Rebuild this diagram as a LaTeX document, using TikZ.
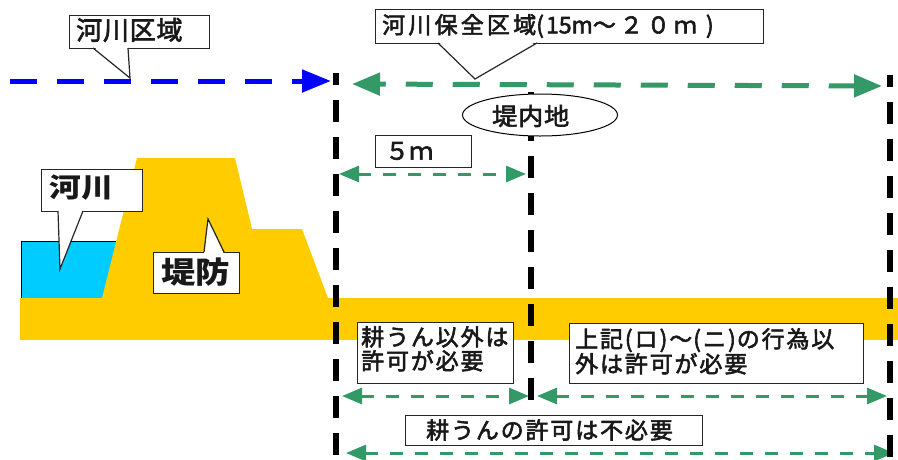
\documentclass[tikz,border=0pt]{standalone}
\usepackage{fontspec}
\usetikzlibrary{arrows.meta,shapes.geometric}
\newfontfamily\jp{Noto Sans CJK JP}
\newcommand\jpset[4]{\jp\addfontfeatures{FakeStretch=#2,LetterSpace=#3,FakeBold=2.5}\fontsize{#1}{#4}\selectfont}
\newcommand\jpbset[4]{\jp\bfseries\addfontfeatures{FakeStretch=#2,LetterSpace=#3}\fontsize{#1}{#4}\selectfont}
\definecolor{gr}{HTML}{339966}
\definecolor{bl}{HTML}{0000FF}
\definecolor{lv}{HTML}{FFCC00}
\definecolor{wt}{HTML}{00CCFF}
\begin{document}
\begin{tikzpicture}[x=1pt,y=-1pt,
  box/.style={draw=black!85, line width=1.2pt, fill=white, inner sep=0pt, anchor=north west},
  ptr/.style={draw=black!85, line width=1.2pt, line join=miter},
  txt/.style={inner sep=0pt, anchor=center, text=black!90},
  vline/.style={line width=6pt, black, dash pattern=on 22pt off 15pt, dash phase=10pt},
  bigarrow/.style={line width=5pt, dash pattern=on 27pt off 20pt, {Triangle[length=28pt,width=22pt]}-{Triangle[length=28pt,width=22pt]}},
  thinarrow/.style={line width=3pt, gr, dash pattern=on 13pt off 12pt, {Triangle[length=20pt,width=16pt]}-{Triangle[length=20pt,width=16pt]}}
]
\useasboundingbox (0,0) rectangle (898,459);
\fill[white] (0,0) rectangle (898,459);

% ---- river, ground and levee
\filldraw[fill=wt, draw=black, line width=1pt] (21,241) rectangle (117,298);
\fill[lv] (20,298) rectangle (898,340);
\fill[lv] (102,298) -- (137,158) -- (235,158) -- (252,229) -- (302,229) -- (328,298) -- cycle;

% ---- coordinates
\coordinate (blS) at (10,81);
\coordinate (blE) at (331,81);
\coordinate (gtS) at (352,84);
\coordinate (gtE) at (882,86);
\coordinate (g5S) at (339,174);
\coordinate (g5E) at (526,174);
\coordinate (gaS) at (342,396);
\coordinate (gaE) at (529,396);
\coordinate (gbS) at (537,396);
\coordinate (gbE) at (887,396);
\coordinate (gcS) at (346,453);
\coordinate (gcE) at (894,453);
\coordinate (v1T) at (336,73);
\coordinate (v1B) at (336,459);
\coordinate (v2T) at (531,92);
\coordinate (v2B) at (531,412);
\coordinate (v3T) at (890,75);
\coordinate (v3B) at (890,459);

% ---- arrows
\draw[bigarrow, bl, dash phase=0pt, -{Triangle[length=29pt,width=22pt]}] (blS) -- (blE);
\draw[bigarrow, gr, dash phase=20pt] (gtS) -- (gtE);
\draw[thinarrow] (g5S) -- (g5E);
\draw[thinarrow] (gaS) -- (gaE);
\draw[thinarrow] (gbS) -- (gbE);
\draw[thinarrow] (gcS) -- (gcE);

% ---- vertical boundary lines
\draw[vline] (v1T) -- (v1B);
\draw[vline] (v2T) -- (v2B);
\draw[vline] (v3T) -- (v3B);

% ---- callout: river area
\node[box, minimum width=140pt, minimum height=33pt] (kkbox) at (69,15) {};
\coordinate (kkp1) at (93,48); \coordinate (kkp2) at (128,48); \coordinate (kkt) at (130,78);
\fill[white] (93,46) -- (kkt) -- (128,46) -- cycle;
\draw[ptr] (kkp1) -- (kkt) -- (kkp2);
\node[txt, anchor=west, font=\jpset{26}{1.0}{3}{30}] (kktxt) at (76,30) {河川区域};

% ---- callout: river conservation area
\node[box, minimum width=388pt, minimum height=34pt] (hzbox) at (375,9) {};
\coordinate (hzp1) at (438,43); \coordinate (hzp2) at (537,43); \coordinate (hzt) at (475,79);
\fill[white] (438,41) -- (hzt) -- (537,41) -- cycle;
\draw[ptr] (hzp1) -- (hzt) -- (hzp2);
\node[txt, anchor=west, font=\jpset{23}{1.0}{0}{26}] (hztxt) at (382,26)
  {{\addfontfeatures{LetterSpace=14}河川保全区域}(\hspace{2pt}15m～\hspace{4pt}２\hspace{4pt}０\hspace{4pt}ｍ\hspace{9pt})};

% ---- ellipse
\node[draw=black, line width=1pt, fill=white, ellipse, minimum width=155pt, minimum height=42pt, inner sep=0pt] (teinai) at (540,115) {};
\node[txt, anchor=west, font=\jpset{24}{1.05}{3}{28}] (teinaitxt) at (492,116) {堤内地};

% ---- 5m box
\node[box, minimum width=96pt, minimum height=32pt] (gobox) at (375,135) {};
\node[txt, anchor=west, font=\jpset{24}{1.0}{0}{28}] (gotxt) at (385,151) {５ｍ};

% ---- callout: river
\node[box, minimum width=101pt, minimum height=42pt] (kwbox) at (41,169) {};
\coordinate (kwp1) at (58,211); \coordinate (kwp2) at (83,211); \coordinate (kwt) at (60,269);
\fill[white] (58,209) -- (kwt) -- (83,209) -- cycle;
\draw[ptr] (kwp1) -- (kwt) -- (kwp2);
\node[txt, anchor=west, font=\jpbset{27}{1.18}{2}{30}] (kwtxt) at (49,188) {河川};

% ---- callout: levee
\node[box, minimum width=86pt, minimum height=41pt] (tbbox) at (153,252) {};
\coordinate (tbp1) at (204,252); \coordinate (tbp2) at (224,252); \coordinate (tbt) at (208,219);
\fill[white] (204,254) -- (tbt) -- (224,254) -- cycle;
\draw[ptr] (tbp1) -- (tbt) -- (tbp2);
\node[txt, anchor=west, font=\jpbset{30}{1.15}{0}{34}] (tbtxt) at (161,272) {堤防};

% ---- bottom boxes
\node[box, minimum width=156pt, minimum height=61pt] (b1box) at (357,322) {};
\node[txt, anchor=north west, align=left, font=\jpset{23}{1.0}{8}{24}] (b1txt) at (361,326) {耕うん以外は\\許可が必要};

\node[box, minimum width=294pt, minimum height=60pt] (b2box) at (569,323) {};
\node[txt, anchor=north west, align=left, font=\jpset{23}{1.0}{8}{23.5}] (b2txt) at (575,328)
  {上記(\hspace{2pt}ロ\hspace{2pt})～\hspace{1pt}(\hspace{2pt}ニ\hspace{2pt})\hspace{1pt}の行為以\\外は許可が必要};

\node[box, minimum width=297pt, minimum height=30pt] (b3box) at (405,415) {};
\node[txt, anchor=west, font=\jpset{23}{1.0}{8}{24}] (b3txt) at (426,430) {耕うんの許可は不必要};
\end{tikzpicture}
\end{document}
